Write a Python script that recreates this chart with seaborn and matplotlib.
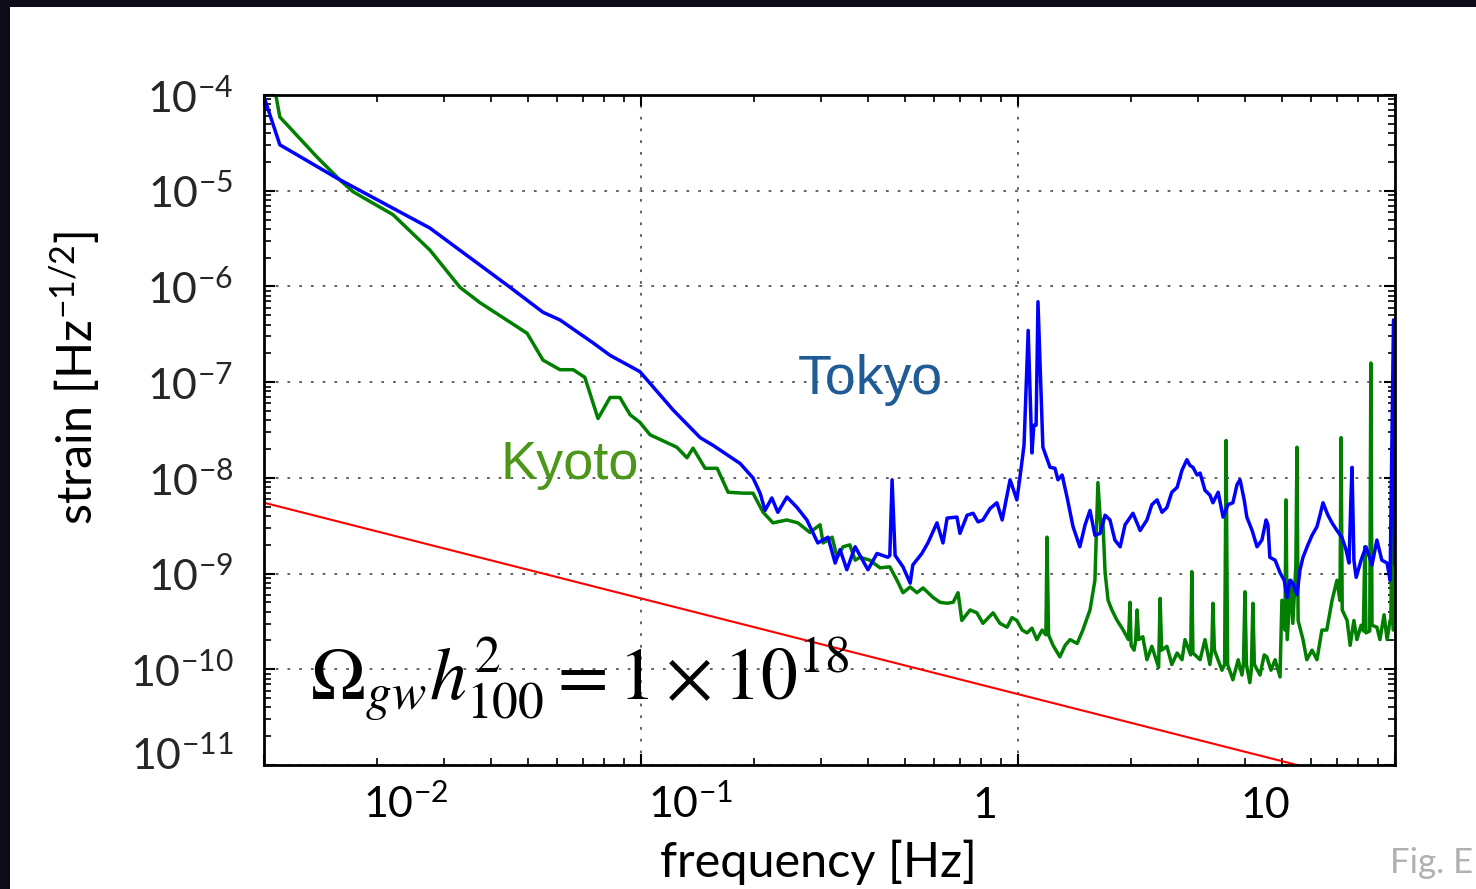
import numpy as np
import pandas as pd
import matplotlib
matplotlib.use("Agg")
import matplotlib.pyplot as plt
import matplotlib.ticker as ticker
from matplotlib.patches import Rectangle
from matplotlib.transforms import ScaledTranslation
import seaborn as sns

# values, as log10(frequency / Hz) and log10(strain)
tokyo_log_freq = [
    -2.000, -1.958, -1.806, -1.560, -1.347, -1.260, -1.215, -1.127, -1.082, -1.003,
    -0.915, -0.843, -0.809, -0.737, -0.703, -0.684, -0.671, -0.653, -0.637, -0.613,
    -0.586, -0.560, -0.531, -0.504, -0.485, -0.472, -0.454, -0.432, -0.398, -0.374,
    -0.345, -0.340, -0.334, -0.326, -0.305, -0.286, -0.279, -0.255, -0.239, -0.215,
    -0.199, -0.188, -0.162, -0.154, -0.135, -0.119, -0.106, -0.093, -0.074, -0.056,
    -0.042, -0.021, -0.003, 0.005, 0.016, 0.027, 0.037, 0.042, 0.048, 0.053,
    0.066, 0.085, 0.098, 0.106, 0.117, 0.130, 0.146, 0.164, 0.178, 0.191,
    0.204, 0.218, 0.231, 0.244, 0.257, 0.271, 0.284, 0.305, 0.324, 0.342,
    0.355, 0.369, 0.382, 0.395, 0.408, 0.422, 0.435, 0.448, 0.456, 0.464,
    0.475, 0.483, 0.496, 0.509, 0.517, 0.531, 0.544, 0.557, 0.570, 0.581,
    0.589, 0.600, 0.607, 0.621, 0.634, 0.647, 0.658, 0.663, 0.668, 0.682,
    0.695, 0.706, 0.714, 0.721, 0.729, 0.740, 0.748, 0.756, 0.769, 0.780,
    0.793, 0.801, 0.809, 0.822, 0.833, 0.846, 0.859, 0.870, 0.878, 0.883,
    0.886, 0.891, 0.897, 0.910, 0.923, 0.939, 0.952, 0.965, 0.979, 0.987,
    0.996, 0.999,
]
tokyo_log_strain = [
    -4.02, -4.52, -4.87, -5.39, -6.01, -6.27, -6.35, -6.59, -6.72, -6.89,
    -7.29, -7.58, -7.66, -7.85, -8.00, -8.16, -8.34, -8.21, -8.36, -8.20,
    -8.31, -8.44, -8.68, -8.62, -8.89, -8.75, -8.96, -8.72, -8.96, -8.79,
    -8.83, -8.81, -8.02, -8.81, -8.93, -9.10, -8.91, -8.79, -8.68, -8.47,
    -8.68, -8.42, -8.41, -8.58, -8.39, -8.37, -8.46, -8.44, -8.32, -8.26,
    -8.44, -8.02, -8.23, -8.00, -7.66, -6.46, -7.74, -7.45, -7.45, -6.16,
    -7.68, -7.89, -7.90, -8.02, -7.97, -8.20, -8.51, -8.72, -8.49, -8.34,
    -8.60, -8.58, -8.39, -8.44, -8.65, -8.72, -8.49, -8.37, -8.55, -8.44,
    -8.28, -8.23, -8.36, -8.31, -8.15, -8.10, -7.92, -7.81, -7.87, -7.89,
    -7.97, -7.95, -8.13, -8.18, -8.26, -8.15, -8.41, -8.28, -8.26, -8.07,
    -8.02, -8.23, -8.41, -8.55, -8.72, -8.65, -8.44, -8.49, -8.83, -8.86,
    -8.99, -9.07, -9.25, -9.07, -9.10, -9.22, -8.96, -8.83, -8.70, -8.60,
    -8.51, -8.39, -8.26, -8.39, -8.47, -8.55, -8.62, -8.75, -8.89, -8.23,
    -7.89, -8.86, -9.04, -8.86, -8.72, -8.91, -8.65, -8.86, -8.89, -9.07,
    -6.35, -8.90,
]

kyoto_log_freq = [
    -1.971, -1.958, -1.859, -1.798, -1.764, -1.658, -1.560, -1.480, -1.427, -1.302,
    -1.260, -1.215, -1.180, -1.149, -1.114, -1.082, -1.056, -1.029, -1.003, -0.976,
    -0.905, -0.878, -0.862, -0.830, -0.798, -0.769, -0.729, -0.703, -0.676, -0.650,
    -0.613, -0.584, -0.552, -0.525, -0.517, -0.493, -0.480, -0.464, -0.446, -0.432,
    -0.419, -0.393, -0.366, -0.340, -0.321, -0.305, -0.286, -0.268, -0.252, -0.225,
    -0.207, -0.188, -0.172, -0.159, -0.149, -0.127, -0.109, -0.093, -0.066, -0.048,
    -0.029, -0.016, -0.003, 0.011, 0.024, 0.037, 0.050, 0.064, 0.074, 0.077,
    0.081, 0.093, 0.111, 0.125, 0.138, 0.157, 0.172, 0.191, 0.204, 0.212,
    0.220, 0.225, 0.231, 0.239, 0.249, 0.263, 0.279, 0.293, 0.297, 0.300,
    0.308, 0.312, 0.316, 0.320, 0.331, 0.342, 0.355, 0.373, 0.377, 0.381,
    0.395, 0.408, 0.422, 0.435, 0.443, 0.458, 0.461, 0.464, 0.483, 0.496,
    0.509, 0.514, 0.517, 0.521, 0.541, 0.548, 0.552, 0.556, 0.570, 0.584,
    0.594, 0.598, 0.602, 0.606, 0.615, 0.619, 0.623, 0.627, 0.642, 0.653,
    0.660, 0.671, 0.682, 0.695, 0.700, 0.708, 0.711, 0.714, 0.724, 0.729,
    0.737, 0.740, 0.743, 0.756, 0.766, 0.780, 0.793, 0.806, 0.819, 0.833,
    0.846, 0.854, 0.857, 0.860, 0.873, 0.881, 0.891, 0.899, 0.910, 0.916,
    0.920, 0.923, 0.933, 0.936, 0.939, 0.952, 0.960, 0.971, 0.979, 0.987,
    0.989, 0.992, 0.995,
]
kyoto_log_strain = [
    -3.95, -4.23, -4.65, -4.89, -5.01, -5.25, -5.62, -6.01, -6.17, -6.49,
    -6.77, -6.87, -6.87, -6.95, -7.38, -7.16, -7.16, -7.34, -7.42, -7.55,
    -7.68, -7.79, -7.69, -7.90, -7.90, -8.15, -8.16, -8.16, -8.36, -8.47,
    -8.44, -8.47, -8.57, -8.49, -8.68, -8.62, -8.83, -8.72, -8.70, -8.86,
    -8.83, -8.86, -8.94, -8.93, -9.07, -9.20, -9.14, -9.20, -9.15, -9.25,
    -9.30, -9.31, -9.30, -9.20, -9.49, -9.38, -9.41, -9.52, -9.41, -9.52,
    -9.56, -9.46, -9.49, -9.59, -9.62, -9.57, -9.69, -9.59, -9.64, -8.62,
    -9.64, -9.75, -9.87, -9.75, -9.69, -9.73, -9.59, -9.38, -9.07, -8.05,
    -8.54, -8.44, -8.99, -9.28, -9.38, -9.49, -9.59, -9.69, -9.30, -9.75,
    -9.80, -9.70, -9.38, -9.69, -9.66, -9.90, -9.76, -9.98, -9.26, -9.80,
    -9.76, -9.95, -9.83, -9.90, -9.69, -9.85, -8.98, -9.83, -9.90, -9.69,
    -9.95, -9.80, -9.31, -9.80, -10.01, -9.95, -7.61, -9.95, -10.11, -9.90,
    -10.06, -9.95, -9.19, -9.95, -10.14, -10.00, -9.31, -9.95, -10.06, -9.85,
    -9.87, -10.01, -9.90, -10.08, -9.28, -9.59, -8.23, -9.69, -9.07, -9.52,
    -8.92, -7.68, -9.49, -9.69, -9.90, -9.80, -9.90, -9.59, -9.59, -9.28,
    -9.07, -9.28, -7.58, -9.38, -9.49, -9.75, -9.49, -9.69, -9.54, -9.60,
    -8.72, -9.62, -9.60, -6.80, -9.54, -9.56, -9.69, -9.43, -9.69, -9.49,
    -9.50, -8.37, -9.59,
]

# Omega_gw h^2 = 1e18 line
limit_freq = [0.01, 10.0]
limit_strain = [5.5e-9, 5.5e-12]

x_tick_labels = ['$10^{-2}$', '$10^{-1}$', '1', '10']
y_tick_values = [1e-11, 1e-10, 1e-9, 1e-8, 1e-7, 1e-6, 1e-5, 1e-4]
y_tick_labels = ['$10^{-11}$', '$10^{-10}$', '$10^{-9}$', '$10^{-8}$',
                 '$10^{-7}$', '$10^{-6}$', '$10^{-5}$', '$10^{-4}$']


def main():
    sns.set_theme(style="white")
    plt.rcParams['font.family'] = ['Lato', 'DejaVu Sans']
    plt.rcParams['mathtext.fontset'] = 'custom'
    plt.rcParams['mathtext.rm'] = 'Lato'
    plt.rcParams['mathtext.it'] = 'Lato:italic'
    plt.rcParams['mathtext.bf'] = 'Lato:bold'

    tokyo = pd.DataFrame({'freq': 10 ** np.array(tokyo_log_freq),
                          'strain': 10 ** np.array(tokyo_log_strain)})
    kyoto = pd.DataFrame({'freq': 10 ** np.array(kyoto_log_freq),
                          'strain': 10 ** np.array(kyoto_log_strain)})
    limit = pd.DataFrame({'freq': limit_freq, 'strain': limit_strain})

    W, H = 1476, 889
    fig = plt.figure(figsize=(W / 100, H / 100), dpi=100, facecolor='#0d0b18')
    fig.patches.append(Rectangle((10 / W, 0), 1, (H - 7) / H, transform=fig.transFigure,
                                 facecolor='white', edgecolor='none', zorder=-10))
    ax = fig.add_axes([264 / W, (H - 765) / H, 1131 / W, 670 / H])

    sns.lineplot(data=limit, x='freq', y='strain', ax=ax, color='#ff0000', lw=1.5,
                 sort=False, estimator=None)
    sns.lineplot(data=kyoto, x='freq', y='strain', ax=ax, color='#007f00', lw=2.5,
                 sort=False, estimator=None)
    sns.lineplot(data=tokyo, x='freq', y='strain', ax=ax, color='#0000ff', lw=2.5,
                 sort=False, estimator=None)

    ax.set_xscale('log')
    ax.set_yscale('log')
    ax.set_xlim(0.01, 10)
    ax.set_ylim(1e-11, 1e-4)
    ax.set_xlabel('')
    ax.set_ylabel('')

    for s in ax.spines.values():
        s.set_color('black')
        s.set_linewidth(2)
    ax.xaxis.set_major_locator(ticker.LogLocator(base=10))
    ax.xaxis.set_minor_locator(ticker.LogLocator(base=10, subs=np.arange(2, 10)))
    ax.set_yticks(y_tick_values)
    ax.yaxis.set_minor_locator(ticker.LogLocator(base=10, subs=np.arange(2, 10)))
    ax.set_yticklabels(y_tick_labels, fontsize=31)
    ax.tick_params(which='both', direction='in', top=True, right=True,
                   bottom=True, left=True, color='black')
    ax.tick_params(which='major', length=8, width=1.5)
    ax.tick_params(which='minor', length=5, width=1.2)
    ax.tick_params(axis='x', which='both', labelbottom=False)
    ax.tick_params(axis='y', pad=22)
    ax.grid(True, which='major', ls=(0, (1.5, 5)), color='#555555', lw=1.3)

    # bottom label sits slightly above its gridline in the reference
    lab = ax.get_yticklabels()[0]
    lab.set_transform(lab.get_transform() + ScaledTranslation(0, 0.13, fig.dpi_scale_trans))

    # x tick labels placed where the reference shows them
    for xf, txt in zip([0.125, 0.377, 0.637, 0.885], x_tick_labels):
        ax.text(xf, -0.079, txt, transform=ax.transAxes, ha='center', va='baseline',
                fontsize=31, color='black')

    fig.text(818 / W, 1 - 862 / H, 'frequency [Hz]', ha='center', va='center',
             fontsize=35, color='black')
    fig.text(75 / W, 1 - 378 / H, 'strain [Hz$^{-1/2}$]', ha='center', va='center',
             rotation=90, fontsize=35, color='black')

    ax.text(0.536, 0.5746, 'Tokyo', transform=ax.transAxes, ha='center', va='center',
            fontsize=40, color='#1f5b94', family=['Liberation Sans'])
    ax.text(0.2706, 0.4478, 'Kyoto', transform=ax.transAxes, ha='center', va='center',
            fontsize=39, color='#4c961a', family=['Liberation Sans'])
    ax.text(0.0407, 0.097, r'$\Omega_{gw}h^{2}_{100}=1\times10^{18}$', transform=ax.transAxes,
            ha='left', va='baseline', fontsize=53, color='black', math_fontfamily='stix')

    fig.text(1473 / W, 1 - 863 / H, 'Fig. E', ha='right', va='center', fontsize=25,
             color='#b0b0b0')

    fig.savefig('out.png', dpi=100, facecolor=fig.get_facecolor())
    plt.close(fig)


if __name__ == "__main__":
    main()
